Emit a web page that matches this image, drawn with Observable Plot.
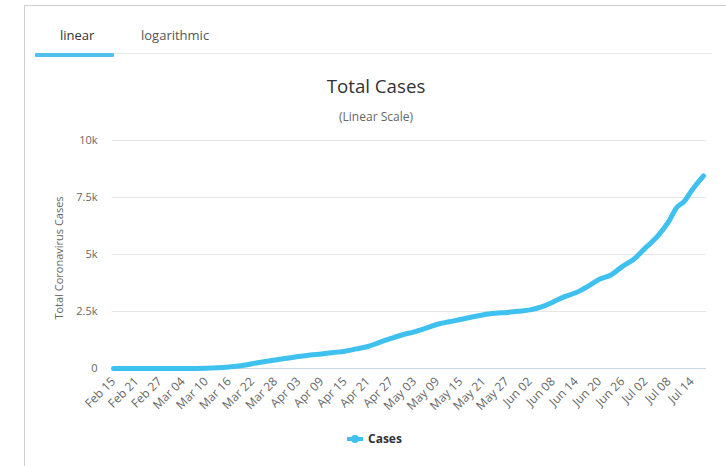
<!DOCTYPE html>
<html>
<head>
<meta charset="utf-8">
<script src="https://cdn.jsdelivr.net/npm/d3@7"></script>
<script src="https://cdn.jsdelivr.net/npm/@observablehq/plot@0.6"></script>
<style>
  html, body { margin: 0; padding: 0; background: #fff; }
  body { width: 726px; height: 466px; position: relative; overflow: hidden; font-family: "Open Sans", sans-serif; }
  .abs { position: absolute; white-space: nowrap; }
  #card { position: absolute; left: 24px; top: 5px; width: 720px; height: 480px; border-left: 1px solid #cfcfcf; border-top: 1px solid #cfcfcf; }
  #chart { position: absolute; left: 0; top: 120px; }
</style>
</head>
<body>
<div id="card"></div>
<div class="abs" style="left:60px; top:26px; font-size:13px; color:#333;">linear</div>
<div class="abs" style="left:141px; top:26px; font-size:13px; color:#555;">logarithmic</div>
<div class="abs" style="left:114px; top:53px; width:598px; height:1px; background:#e8e8e8;"></div>
<div class="abs" style="left:35px; top:53px; width:79px; height:4px; background:#4fc1ec; border-radius:1px;"></div>
<div class="abs" style="left:376px; top:73px; transform:translateX(-50%); font-size:18.7px; color:#333;">Total Cases</div>
<div class="abs" style="left:376px; top:108px; transform:translateX(-50%); font-size:12px; color:#666;">(Linear Scale)</div>
<div class="abs" style="left:58px; top:258px; transform:translate(-50%,-50%) rotate(-90deg); font-size:11px; color:#666;">Total Coronavirus Cases</div>
<div id="chart"></div>
<div class="abs" style="left:347px; top:430px; font-size:12px; font-weight:bold; color:#333; display:flex; align-items:center;">
  <svg width="16" height="10" style="margin-right:5px;"><line x1="0" y1="5" x2="16" y2="5" stroke="#3fc1f0" stroke-width="4"/><circle cx="8" cy="5" r="4" fill="#3fc1f0"/></svg>Cases
</div>
<script>
// Data (2020)
const dates = ["Feb 15","Feb 21","Feb 27","Mar 04","Mar 10","Mar 13","Mar 16","Mar 19","Mar 22","Mar 25","Mar 28","Mar 31",
  "Apr 03","Apr 06","Apr 09","Apr 12","Apr 15","Apr 18","Apr 21","Apr 24","Apr 27","Apr 30",
  "May 03","May 06","May 09","May 12","May 15","May 18","May 21","May 24","May 27","May 30",
  "Jun 02","Jun 05","Jun 08","Jun 11","Jun 14","Jun 17","Jun 20","Jun 23","Jun 26","Jun 29",
  "Jul 02","Jul 05","Jul 08","Jul 10","Jul 12","Jul 14","Jul 17"];
const cases = [0,0,0,2,15,35,70,120,210,300,370,450,
  525,590,640,700,760,860,965,1150,1320,1480,
  1610,1770,1940,2050,2150,2260,2360,2420,2460,2510,
  2570,2700,2920,3150,3330,3600,3910,4100,4480,4800,
  5300,5780,6450,7050,7330,7820,8450];
const xTickLabels = ["Feb 15","Feb 21","Feb 27","Mar 04","Mar 10","Mar 16","Mar 22","Mar 28","Apr 03","Apr 09","Apr 15","Apr 21",
  "Apr 27","May 03","May 09","May 15","May 21","May 27","Jun 02","Jun 08","Jun 14","Jun 20","Jun 26","Jul 02","Jul 08","Jul 14"];
const yTicks = [0, 2500, 5000, 7500, 10000];
const yTickLabels = ["0", "2.5k", "5k", "7.5k", "10k"];

const parse = d3.utcParse("%b %d %Y");
const data = dates.map((d, i) => ({date: parse(d + " 2020"), value: cases[i]}));
const xTicks = xTickLabels.map(d => parse(d + " 2020"));
const fmtX = d3.utcFormat("%b %d");

const lineColor = "#3fc1f0";

const chart = Plot.plot({
  width: 726,
  height: 300,
  marginLeft: 112,
  marginRight: 20,
  marginTop: 20,
  marginBottom: 52,
  insetLeft: 1,
  insetRight: 3,
  style: {fontFamily: "Open Sans, sans-serif", fontSize: "11px", color: "#666", background: "transparent"},
  x: {type: "utc", domain: [data[0].date, data[data.length - 1].date]},
  y: {domain: [0, 10000]},
  marks: [
    Plot.gridY(yTicks, {stroke: "#e6e6e6", strokeOpacity: 1}),
    Plot.ruleY([0], {stroke: "#ccd6eb"}),
    Plot.axisY({ticks: yTicks, tickSize: 0, tickPadding: 15, fontSize: 11, tickFormat: (d) => yTickLabels[yTicks.indexOf(d)], label: null, fill: "#666"}),
    Plot.axisX({ticks: xTicks, tickSize: 0, tickPadding: 11, fontSize: 12, tickRotate: -45, tickFormat: fmtX, label: null, fill: "#666"}),
    Plot.line(data, {x: "date", y: "value", stroke: lineColor, strokeWidth: 5, curve: "monotone-x"})
  ]
});
document.getElementById("chart").appendChild(chart);
</script>
</body>
</html>
